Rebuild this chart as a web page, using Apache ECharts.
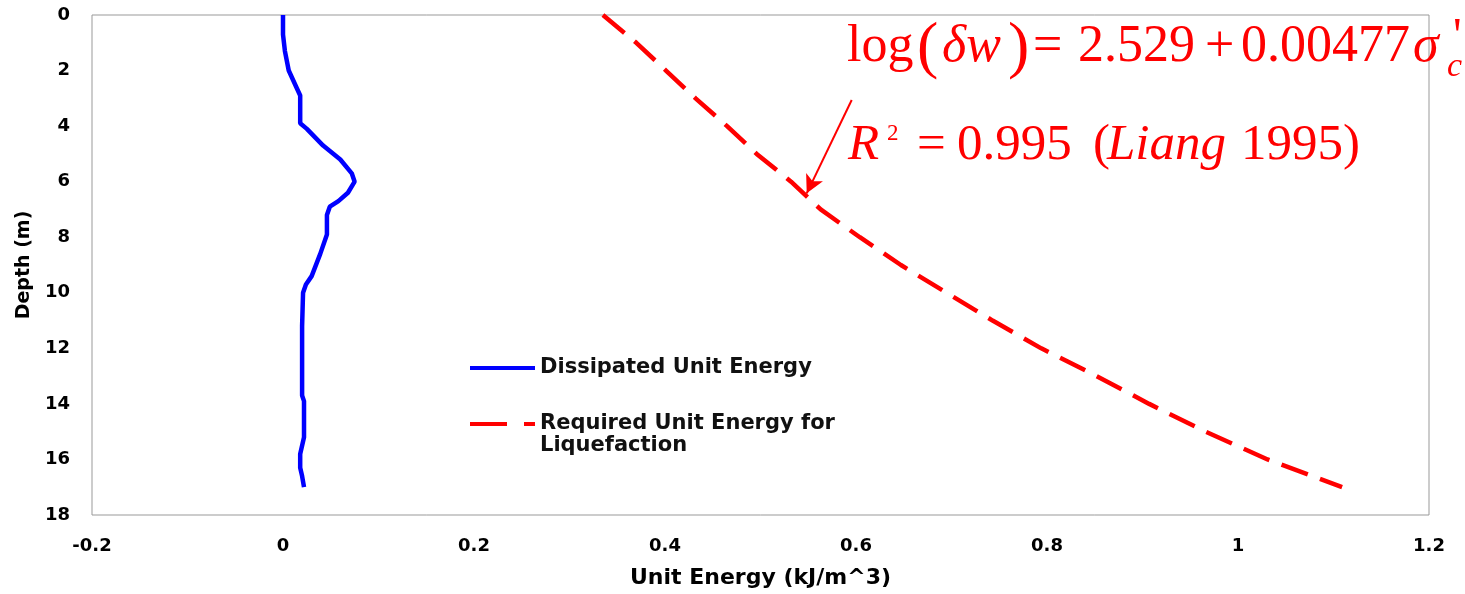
<!DOCTYPE html>
<html>
<head>
<meta charset="utf-8">
<script src="https://cdn.jsdelivr.net/npm/echarts@6/dist/echarts.min.js"></script>
<style>
html,body{margin:0;padding:0;background:#ffffff;}
#chart{width:1465px;height:594px;}
</style>
</head>
<body>
<div id="chart"></div>
<script>
// ---- data ----
const dissipatedDepth  = [0, 0.7, 1.3, 2.0, 2.6, 2.9, 3.9, 4.1, 4.7, 5.2, 5.7, 6.0, 6.4, 6.7, 6.9, 7.2, 7.9, 8.6, 9.4, 9.7, 10.0, 11.2, 13.7, 13.9, 15.2, 15.8, 16.3, 16.6, 17.0];
const dissipatedEnergy = [0.000, 0.000, 0.002, 0.006, 0.014, 0.018, 0.018, 0.025, 0.042, 0.060, 0.072, 0.075, 0.068, 0.058, 0.049, 0.046, 0.046, 0.039, 0.030, 0.024, 0.021, 0.020, 0.020, 0.022, 0.022, 0.018, 0.018, 0.020, 0.022];

const requiredDepth  = [0, 1, 2, 3, 4, 5, 6, 7, 8, 9, 10, 11, 12, 13, 14, 15, 16, 17];
const requiredEnergy = [0.335, 0.370, 0.401, 0.432, 0.465, 0.496, 0.532, 0.563, 0.604, 0.647, 0.695, 0.743, 0.794, 0.852, 0.907, 0.966, 1.031, 1.109];

const seriesNames = ['Dissipated Unit Energy', 'Required Unit Energy for\nLiquefaction'];
const xName = 'Unit Energy (kJ/m^3)';
const yName = 'Depth (m)';
const arrowFrom = [0.5955, 3.06];
const arrowTo   = [0.5484, 6.42];

// ---- build ----
const blueData = dissipatedDepth.map((d, i) => [dissipatedEnergy[i], d]);
const redData  = requiredDepth.map((d, i) => [requiredEnergy[i], d]);

const RED = '#ff0000';
const serif = '"Liberation Serif", "Times New Roman", serif';
function t(text, x, y, size, italic) {
  return {
    type: 'text', silent: true, z: 100,
    style: {
      text: text, x: x, y: y, fill: RED,
      font: (italic ? 'italic ' : '') + size + 'px ' + serif,
      align: 'left', verticalAlign: 'middle'
    }
  };
}

const chart = echarts.init(document.getElementById('chart'), null, {renderer: 'canvas'});
const labelFont = {fontFamily: 'DejaVu Sans', fontWeight: 'bold', fontSize: 18, color: '#000'};
const legendText = {fontFamily: 'DejaVu Sans', fontWeight: 'bold', fontSize: 21, color: '#111', lineHeight: 22};

chart.setOption({
  animation: false,
  backgroundColor: '#ffffff',
  grid: {left: 92, right: 36, top: 15, bottom: 79, show: true, borderColor: '#999999', borderWidth: 1, backgroundColor: '#ffffff'},
  xAxis: {
    type: 'value', min: -0.2, max: 1.2, interval: 0.2,
    name: xName, nameLocation: 'middle', nameGap: 52,
    nameTextStyle: {fontFamily: 'DejaVu Sans', fontWeight: 'bold', fontSize: 22, color: '#000'},
    axisLine: {show: false}, axisTick: {show: false}, splitLine: {show: false},
    axisLabel: Object.assign({margin: 22}, labelFont)
  },
  yAxis: {
    type: 'value', inverse: true, min: 0, max: 18, interval: 2,
    name: yName, nameLocation: 'middle', nameGap: 55, nameRotate: 90,
    nameTextStyle: {fontFamily: 'DejaVu Sans', fontWeight: 'bold', fontSize: 19, color: '#000'},
    axisLine: {show: false}, axisTick: {show: false}, splitLine: {show: false},
    axisLabel: Object.assign({margin: 22}, labelFont)
  },
  legend: [
    {
      data: [seriesNames[0]], orient: 'vertical', left: 468, top: 357, padding: 0,
      itemWidth: 65, itemHeight: 14, itemGap: 0,
      itemStyle: {opacity: 0, borderWidth: 0},
      lineStyle: {width: 4},
      textStyle: legendText
    },
    {
      data: [seriesNames[1]], orient: 'vertical', left: 468, top: 391, padding: 0,
      itemWidth: 65, itemHeight: 14, itemGap: 0,
      itemStyle: {opacity: 0, borderWidth: 0},
      lineStyle: {type: [37, 17], width: 4},
      formatter: function (name) { return '\n' + name; },
      textStyle: legendText
    }
  ],
  series: [
    {
      name: seriesNames[0], type: 'line', data: blueData, symbol: 'none',
      lineStyle: {color: '#0000ff', width: 4.5}, itemStyle: {color: '#0000ff'}, z: 3
    },
    {
      name: seriesNames[1], type: 'line', data: redData, symbol: 'none',
      lineStyle: {color: RED, width: 4.5, type: [28, 13]}, itemStyle: {color: RED}, z: 3,
      markLine: {
        silent: true, animation: false,
        symbol: ['none', 'arrow'], symbolSize: [14, 18],
        label: {show: false},
        lineStyle: {color: RED, width: 2, type: 'solid'},
        data: [[{coord: arrowFrom}, {coord: arrowTo}]]
      }
    }
  ],
  graphic: [
    t('log', 847, 47, 52, false),
    t('(', 917, 49, 64, false),
    t('\u03b4w', 942, 47, 52, true),
    t(')', 1008, 49, 64, false),
    t('=', 1033, 47, 52, false),
    t('2.529', 1078, 47, 52, false),
    t('+', 1205, 47, 52, false),
    t('0.00477', 1241, 47, 52, false),
    t('\u03c3', 1413, 47, 52, true),
    t("'", 1453, 38, 48, false),
    t('c', 1447, 67, 34, true),
    t('R', 848, 146, 51, true),
    t('2', 887, 134, 23, false),
    t('=', 917, 146, 51, false),
    t('0.995', 957, 146, 51, false),
    t('(', 1093, 146, 51, false),
    t('Liang', 1107, 146, 51, true),
    t('1995', 1241, 146, 51, false),
    t(')', 1343, 146, 51, false)
  ]
});
</script>
</body>
</html>
